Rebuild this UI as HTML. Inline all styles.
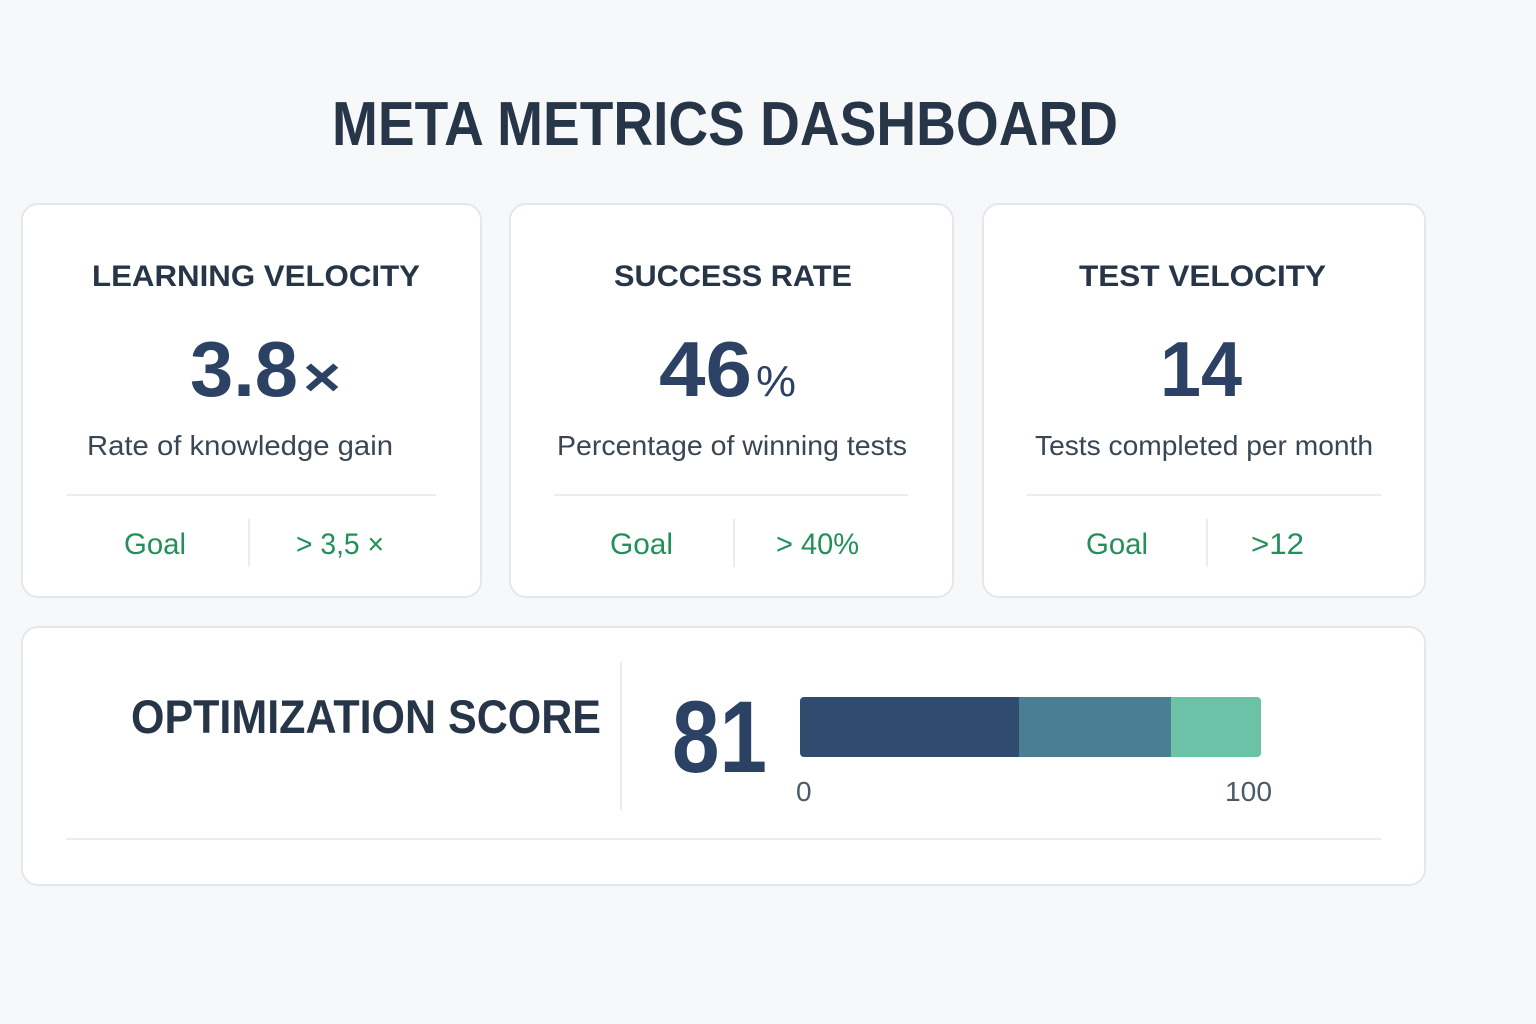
<!DOCTYPE html>
<html><head><meta charset="utf-8"><style>
html,body{margin:0;padding:0;background:#f7f8fa;}
svg{display:block;font-family:"Liberation Sans",sans-serif;}
</style></head><body>
<svg width="1536" height="1024" viewBox="0 0 1536 1024" xmlns="http://www.w3.org/2000/svg">
<rect width="1536" height="1024" fill="#f7f8fa"/>
<text x="332" y="145" font-size="62" font-weight="bold" fill="#263547" textLength="786" lengthAdjust="spacingAndGlyphs">META METRICS DASHBOARD</text>

<g fill="#fff" stroke="#e4e7eb" stroke-width="2">
<rect x="22" y="204" width="459" height="393" rx="16"/>
<rect x="510" y="204" width="443" height="393" rx="16"/>
<rect x="983" y="204" width="442" height="393" rx="16"/>
<rect x="22" y="627" width="1403" height="258" rx="16"/>
</g>

<g stroke="#e3e6ea" stroke-width="1.5">
<line x1="67" y1="495" x2="436" y2="495"/>
<line x1="554" y1="495" x2="908" y2="495"/>
<line x1="1027" y1="495" x2="1381" y2="495"/>
<line x1="249" y1="519" x2="249" y2="567"/>
<line x1="734" y1="519" x2="734" y2="567"/>
<line x1="1207" y1="519" x2="1207" y2="567"/>
<line x1="621" y1="662" x2="621" y2="810"/>
<line x1="66" y1="839" x2="1381" y2="839"/>
</g>

<g font-weight="bold" fill="#263547" font-size="30">
<text x="92" y="286" textLength="328" lengthAdjust="spacingAndGlyphs">LEARNING VELOCITY</text>
<text x="614" y="286" textLength="238" lengthAdjust="spacingAndGlyphs">SUCCESS RATE</text>
<text x="1079" y="286" textLength="247" lengthAdjust="spacingAndGlyphs">TEST VELOCITY</text>
</g>

<g font-weight="bold" fill="#2b4264">
<text x="190" y="396" font-size="78" textLength="108" lengthAdjust="spacingAndGlyphs">3.8</text>
<text x="303" y="396" font-size="56" textLength="38" lengthAdjust="spacingAndGlyphs">×</text>
<text x="659" y="396" font-size="78" textLength="93" lengthAdjust="spacingAndGlyphs">46</text>
<text x="756" y="396" font-size="44" font-weight="normal" textLength="40" lengthAdjust="spacingAndGlyphs">%</text>
<text x="1160" y="396" font-size="78" textLength="82" lengthAdjust="spacingAndGlyphs">14</text>
</g>

<g fill="#3a4654" font-size="28">
<text x="87" y="455" textLength="306" lengthAdjust="spacingAndGlyphs">Rate of knowledge gain</text>
<text x="557" y="455" textLength="350" lengthAdjust="spacingAndGlyphs">Percentage of winning tests</text>
<text x="1035" y="455" textLength="338" lengthAdjust="spacingAndGlyphs">Tests completed per month</text>
</g>

<g fill="#23905a" font-size="30">
<text x="124" y="554" textLength="62" lengthAdjust="spacingAndGlyphs">Goal</text>
<text x="296" y="554" textLength="88" lengthAdjust="spacingAndGlyphs">&gt; 3,5 ×</text>
<text x="610" y="554" textLength="63" lengthAdjust="spacingAndGlyphs">Goal</text>
<text x="776" y="554" textLength="83" lengthAdjust="spacingAndGlyphs">&gt; 40%</text>
<text x="1086" y="554" textLength="62" lengthAdjust="spacingAndGlyphs">Goal</text>
<text x="1251" y="554" textLength="53" lengthAdjust="spacingAndGlyphs">&gt;12</text>
</g>

<text x="131" y="733" font-size="47" font-weight="bold" fill="#263547" textLength="470" lengthAdjust="spacingAndGlyphs">OPTIMIZATION SCORE</text>
<text x="672" y="772" font-size="102" font-weight="bold" fill="#2b4264" textLength="95" lengthAdjust="spacingAndGlyphs">81</text>

<clipPath id="bc"><rect x="800" y="697" width="461" height="60" rx="4"/></clipPath>
<g clip-path="url(#bc)">
<rect x="800" y="697" width="219" height="60" fill="#2f4b6e"/>
<rect x="1019" y="697" width="152" height="60" fill="#4a7f93"/>
<rect x="1171" y="697" width="90" height="60" fill="#6cc2a6"/>
</g>
<text x="796" y="801" font-size="28" fill="#4a5a68">0</text>
<text x="1225" y="801" font-size="28" fill="#4a5a68" textLength="47" lengthAdjust="spacingAndGlyphs">100</text>
</svg>
</body></html>
